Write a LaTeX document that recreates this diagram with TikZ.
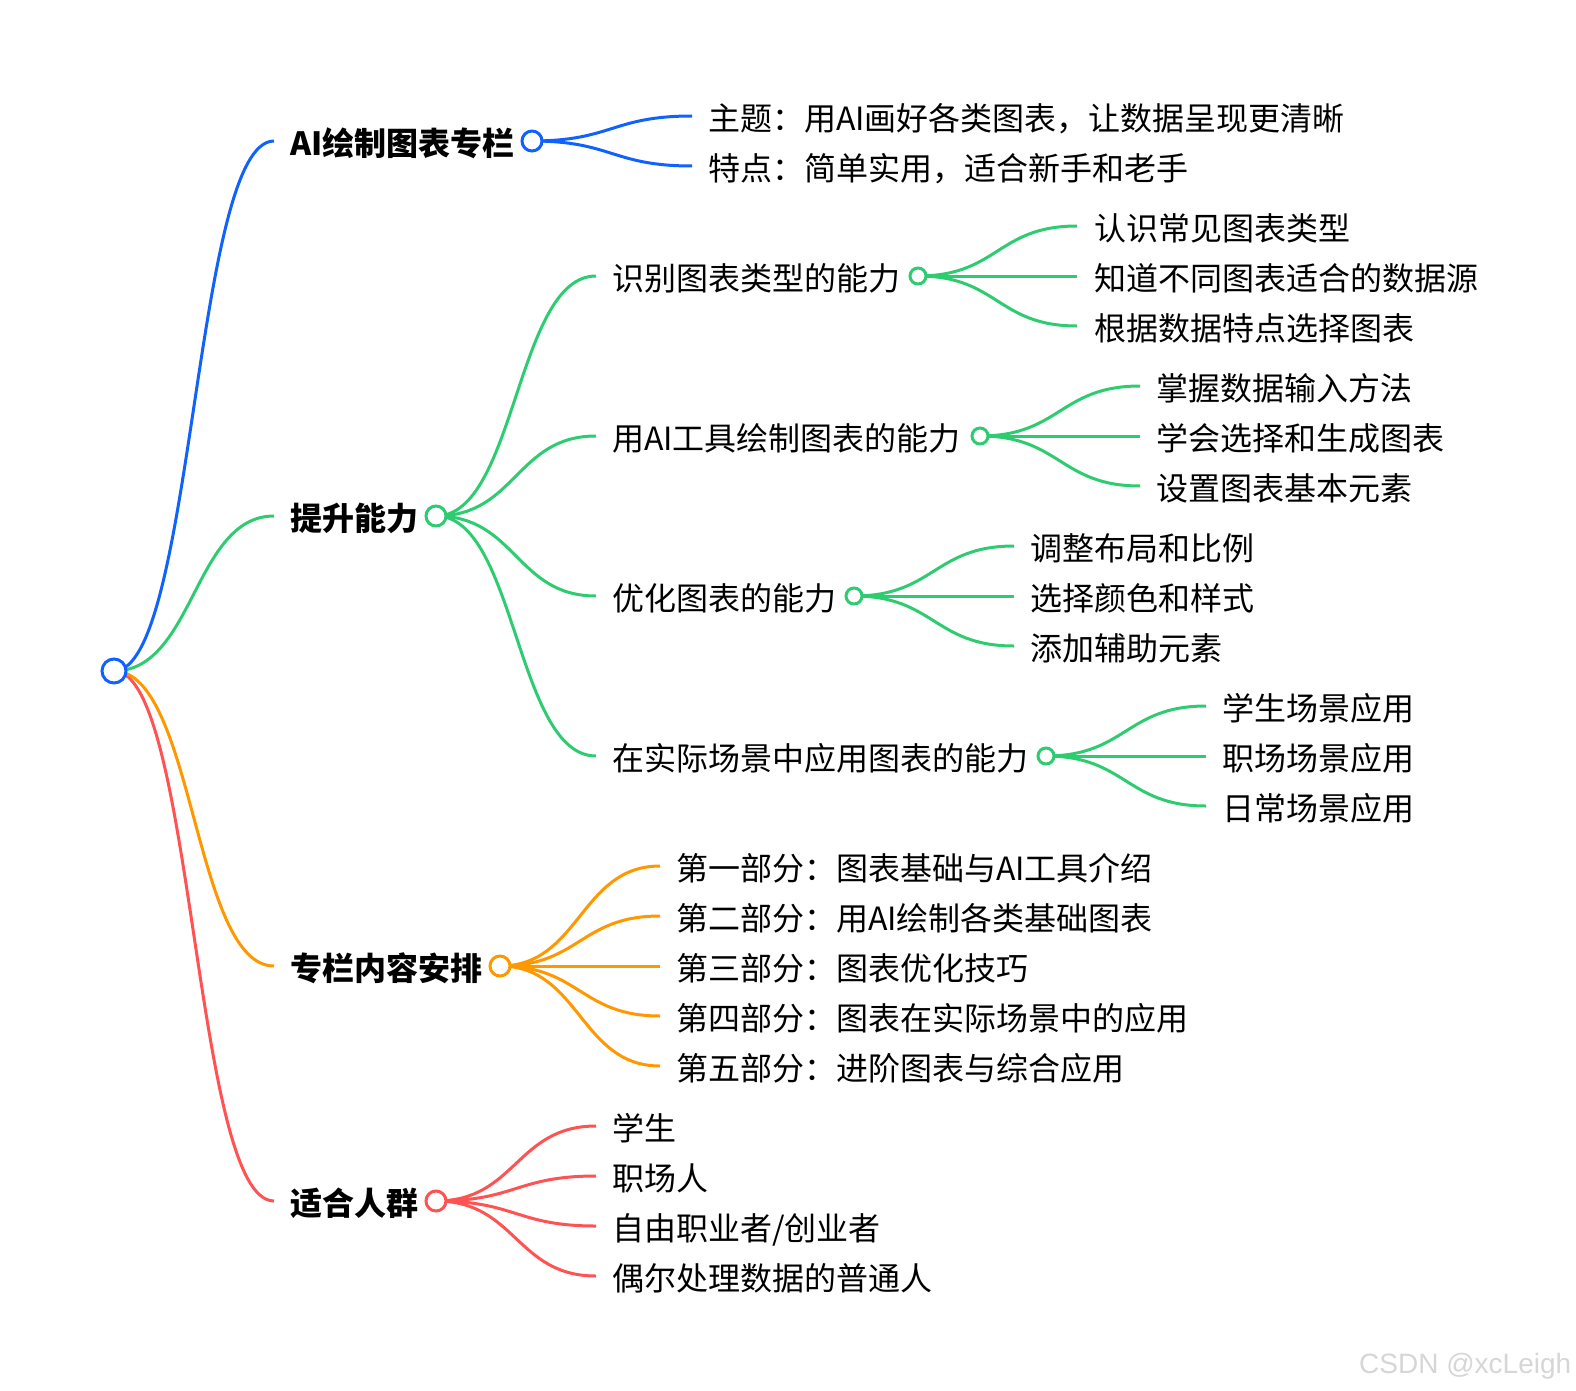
\documentclass[tikz,border=0pt]{standalone}
\usepackage{fontspec}
\setmainfont{Noto Sans CJK SC}
\newfontfamily\wmfont{Liberation Sans}
\usetikzlibrary{backgrounds}
\definecolor{cblue}{HTML}{0F62FE}
\definecolor{cgreen}{HTML}{2ECC71}
\definecolor{corange}{HTML}{FF9800}
\definecolor{cred}{HTML}{FF5252}
\definecolor{cmark}{HTML}{D6D6D6}
\tikzset{
  lab/.style={anchor=west,inner xsep=16pt,inner ysep=0pt,outer sep=0pt,text height=32pt,text depth=4pt,font=\fontsize{32}{38}\selectfont,text=black},
  high/.style={text height=34pt},
  head/.style={lab,font=\fontsize{32}{38}\selectfont\bfseries},
  dotl/.style={circle,draw=#1,fill=white,line width=3pt,minimum size=24pt,inner sep=0pt,outer sep=0pt},
  dotm/.style={circle,draw=#1,fill=white,line width=3pt,minimum size=20pt,inner sep=0pt,outer sep=0pt},
  dots/.style={circle,draw=#1,fill=white,line width=3pt,minimum size=16pt,inner sep=0pt,outer sep=0pt},
  wire/.style={draw=#1,line width=3pt,line cap=butt},
  sway/.style={out=0,in=180,distance=80pt}
}
\begin{document}
\begin{tikzpicture}[x=1pt,y=-1pt]
\useasboundingbox (0,0) rectangle (1576,1391);
% root
\node[dotl=cblue] (root) at (114,671) {};
% branch 1
\node[head,high] (h1) at (274,141) {AI绘制图表专栏};
\node[dotm=cblue] (d1) at (532,141) {};
\node[lab,high] (a1) at (692,116) {主题：用AI画好各类图表，让数据呈现更清晰};
\node[lab,high] (a2) at (692,166) {特点：简单实用，适合新手和老手};
% branch 2
\node[head] (h2) at (274,516) {提升能力};
\node[dotm=cgreen] (d2) at (436,516) {};
\node[lab] (b1) at (596,276) {识别图表类型的能力};
\node[dots=cgreen] (db1) at (918,276) {};
\node[lab,text height=33pt,inner xsep=17pt] (b11) at (1077,226) {认识常见图表类型};
\node[lab,inner xsep=17pt] (b12) at (1077,276) {知道不同图表适合的数据源};
\node[lab,inner xsep=17pt] (b13) at (1077,326) {根据数据特点选择图表};
\node[lab] (b2) at (596,436) {用AI工具绘制图表的能力};
\node[dots=cgreen] (db2) at (980,436) {};
\node[lab] (b21) at (1140,386) {掌握数据输入方法};
\node[lab] (b22) at (1140,436) {学会选择和生成图表};
\node[lab] (b23) at (1140,486) {设置图表基本元素};
\node[lab] (b3) at (596,596) {优化图表的能力};
\node[dots=cgreen] (db3) at (854,596) {};
\node[lab] (b31) at (1014,546) {调整布局和比例};
\node[lab] (b32) at (1014,596) {选择颜色和样式};
\node[lab] (b33) at (1014,646) {添加辅助元素};
\node[lab] (b4) at (596,756) {在实际场景中应用图表的能力};
\node[dots=cgreen] (db4) at (1046,756) {};
\node[lab] (b41) at (1206,706) {学生场景应用};
\node[lab] (b42) at (1206,756) {职场场景应用};
\node[lab] (b43) at (1206,806) {日常场景应用};
% branch 3
\node[head] (h3) at (274,966) {专栏内容安排};
\node[dotm=corange] (d3) at (500,966) {};
\node[lab] (c1) at (660,866) {第一部分：图表基础与AI工具介绍};
\node[lab] (c2) at (660,916) {第二部分：用AI绘制各类基础图表};
\node[lab] (c3) at (660,966) {第三部分：图表优化技巧};
\node[lab] (c4) at (660,1016) {第四部分：图表在实际场景中的应用};
\node[lab] (c5) at (660,1066) {第五部分：进阶图表与综合应用};
% branch 4
\node[head] (h4) at (274,1201) {适合人群};
\node[dotm=cred] (d4) at (436,1201) {};
\node[lab] (e1) at (596,1126) {学生};
\node[lab] (e2) at (596,1176) {职场人};
\node[lab] (e3) at (596,1226) {自由职业者/创业者};
\node[lab] (e4) at (596,1276) {偶尔处理数据的普通人};
% watermark
\node[anchor=base west,inner sep=0pt,text=cmark,font=\wmfont\fontsize{28}{32}\selectfont] (wm) at (1359,1373) {CSDN @xcLeigh};
% connectors
\begin{scope}[on background layer]
\draw[wire=cred] (root.center) to[sway] (h4.west);
\draw[wire=corange] (root.center) to[sway] (h3.west);
\draw[wire=cgreen] (root.center) to[sway] (h2.west);
\draw[wire=cblue] (root.center) to[sway] (h1.west);
\foreach \k in {a1,a2} \draw[wire=cblue] (d1.center) to[sway] (\k.west);
\foreach \k in {b1,b2,b3,b4} \draw[wire=cgreen] (d2.center) to[sway] (\k.west);
\foreach \k in {b11,b12,b13} \draw[wire=cgreen] (db1.center) to[sway] (\k.west);
\foreach \k in {b21,b22,b23} \draw[wire=cgreen] (db2.center) to[sway] (\k.west);
\foreach \k in {b31,b32,b33} \draw[wire=cgreen] (db3.center) to[sway] (\k.west);
\foreach \k in {b41,b42,b43} \draw[wire=cgreen] (db4.center) to[sway] (\k.west);
\foreach \k in {c1,c2,c3,c4,c5} \draw[wire=corange] (d3.center) to[sway] (\k.west);
\foreach \k in {e1,e2,e3,e4} \draw[wire=cred] (d4.center) to[sway] (\k.west);
\end{scope}
\end{tikzpicture}
\end{document}
